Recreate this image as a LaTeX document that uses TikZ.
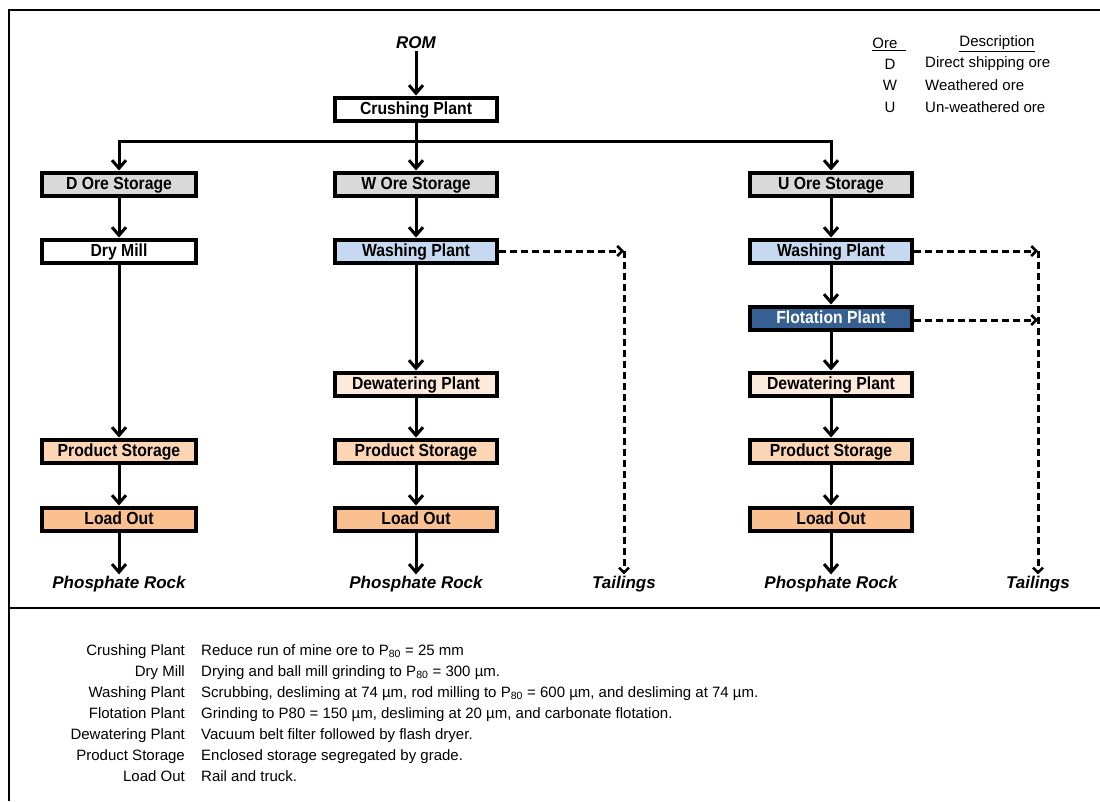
\documentclass[tikz,border=0pt]{standalone}
\usepackage{fontspec}
\setmainfont{Liberation Sans}
\newfontfamily\boxfont[FakeStretch=0.9]{Liberation Sans}
\usetikzlibrary{arrows.meta}
\definecolor{oregray}{HTML}{D9D9D9}
\definecolor{washblue}{HTML}{C6D9F1}
\definecolor{flotblue}{HTML}{376092}
\definecolor{dewpeach}{HTML}{FDEADA}
\definecolor{prodpeach}{HTML}{FCD5B5}
\definecolor{loadpeach}{HTML}{FAC090}
\tikzset{
  box/.style={draw=black, line width=4pt, minimum height=23pt, inner sep=0pt,
    text height=12.5pt, text depth=1.5pt,
    font=\boxfont\bfseries\fontsize{17.5}{17.5}\selectfont},
  nbox/.style={box, minimum width=154pt},
  wbox/.style={box, minimum width=162pt},
  lbl/.style={inner sep=1.5pt, font=\bfseries\itshape\fontsize{17}{17}\selectfont},
  arr/.style={line width=3pt, -{Straight Barb[length=8pt,width=14pt,line width=3pt]}},
  darr/.style={line width=3pt, dash pattern=on 7pt off 4pt, -{Straight Barb[length=5pt,width=10pt,line width=2.5pt]}},
  leg/.style={inner sep=0pt, font=\fontsize{15}{15}\selectfont},
  desc/.style={inner sep=0pt, font=\fontsize{15}{15}\selectfont},
  frame/.style={line width=2.5pt}
}
\begin{document}
\begin{tikzpicture}[x=1pt,y=-1pt]
\useasboundingbox (0,0) rectangle (1100,801);
% frame
\draw[frame] (1100,10) -- (9,10) -- (9,801);
\draw[frame] (9,608) -- (1100,608);

% top
\node[lbl] (rom) at (416,43) {ROM};
\node[wbox, fill=white] (crush) at (416,109) {Crushing Plant};
\coordinate (bus) at (416,141);

% column D
\node[nbox, fill=oregray] (dore) at (119,184) {D Ore Storage};
\node[nbox, fill=white] (dry) at (119,251) {Dry Mill};
\node[nbox, fill=prodpeach] (prod1) at (119,451) {Product Storage};
\node[nbox, fill=loadpeach] (load1) at (119,519) {Load Out};
\node[lbl] (phos1) at (119,584) {Phosphate Rock};

% column W
\node[wbox, fill=oregray] (wore) at (416,184) {W Ore Storage};
\node[wbox, fill=washblue] (wash1) at (416,251) {Washing Plant};
\node[wbox, fill=dewpeach] (dew1) at (416,384) {Dewatering Plant};
\node[wbox, fill=prodpeach] (prod2) at (416,451) {Product Storage};
\node[wbox, fill=loadpeach] (load2) at (416,519) {Load Out};
\node[lbl] (phos2) at (416,584) {Phosphate Rock};
\node[lbl] (tail1) at (624,584) {Tailings};
\coordinate (c1) at (624,251);

% column U
\node[wbox, fill=oregray] (uore) at (831,184) {U Ore Storage};
\node[wbox, fill=washblue] (wash2) at (831,251) {Washing Plant};
\node[wbox, fill=flotblue, text=white] (flot) at (831,318) {Flotation Plant};
\node[wbox, fill=dewpeach] (dew2) at (831,384) {Dewatering Plant};
\node[wbox, fill=prodpeach] (prod3) at (831,451) {Product Storage};
\node[wbox, fill=loadpeach] (load3) at (831,519) {Load Out};
\node[lbl] (phos3) at (831,584) {Phosphate Rock};
\node[lbl] (tail2) at (1038,584) {Tailings};
\coordinate (c2) at (1038,251);
\coordinate (c3) at (1038,320);

% solid connectors
\draw[arr] (rom) -- (crush);
\draw[arr] (crush) -- (wore);
\draw[arr] (bus) -| (dore);
\draw[arr] (bus) -| (uore);
\draw[arr] (dore) -- (dry);
\draw[arr] (dry) -- (prod1);
\draw[arr] (prod1) -- (load1);
\draw[arr] (load1) -- (phos1);
\draw[arr] (wore) -- (wash1);
\draw[arr] (wash1) -- (dew1);
\draw[arr] (dew1) -- (prod2);
\draw[arr] (prod2) -- (load2);
\draw[arr] (load2) -- (phos2);
\draw[arr] (uore) -- (wash2);
\draw[arr] (wash2) -- (flot);
\draw[arr] (flot) -- (dew2);
\draw[arr] (dew2) -- (prod3);
\draw[arr] (prod3) -- (load3);
\draw[arr] (load3) -- (phos3);

% dashed connectors
\draw[darr] (wash1.east) -- (c1);
\draw[darr] (c1) -- (tail1.north);
\draw[darr] (wash2.east) -- (c2);
\draw[darr] (flot.east |- c3) -- (c3);
\draw[darr] (c2) -- (tail2.north);

% legend
\node[leg] (lgore) at (889,44) {\underline{Ore\ \ }};
\node[leg] (lgdesc) at (997,44) {\underline{Description}};
\node[leg] (lgd) at (890,64) {D};
\node[leg] (lgw) at (890,85) {W};
\node[leg] (lgu) at (890,107) {U};
\node[leg, anchor=west] (lgdd) at (925,64) {Direct shipping ore};
\node[leg, anchor=west] (lgwd) at (925,85) {Weathered ore};
\node[leg, anchor=west] (lgud) at (925,107) {Un-weathered ore};

% descriptions
\node[desc, anchor=base east] (k1) at (185,655) {Crushing Plant};
\node[desc, anchor=base east] (k2) at (185,676) {Dry Mill};
\node[desc, anchor=base east] (k3) at (185,697) {Washing Plant};
\node[desc, anchor=base east] (k4) at (185,718) {Flotation Plant};
\node[desc, anchor=base east] (k5) at (185,739) {Dewatering Plant};
\node[desc, anchor=base east] (k6) at (185,760) {Product Storage};
\node[desc, anchor=base east] (k7) at (185,781) {Load Out};
\node[desc, anchor=base west] (v1) at (201,655) {Reduce run of mine ore to P\textsubscript{80} = 25 mm};
\node[desc, anchor=base west] (v2) at (201,676) {Drying and ball mill grinding to P\textsubscript{80} = 300 µm.};
\node[desc, anchor=base west] (v3) at (201,697) {Scrubbing, desliming at 74 µm, rod milling to P\textsubscript{80} = 600 µm, and desliming at 74 µm.};
\node[desc, anchor=base west] (v4) at (201,718) {Grinding to P80 = 150 µm, desliming at 20 µm, and carbonate flotation.};
\node[desc, anchor=base west] (v5) at (201,739) {Vacuum belt filter followed by flash dryer.};
\node[desc, anchor=base west] (v6) at (201,760) {Enclosed storage segregated by grade.};
\node[desc, anchor=base west] (v7) at (201,781) {Rail and truck.};
\end{tikzpicture}
\end{document}
